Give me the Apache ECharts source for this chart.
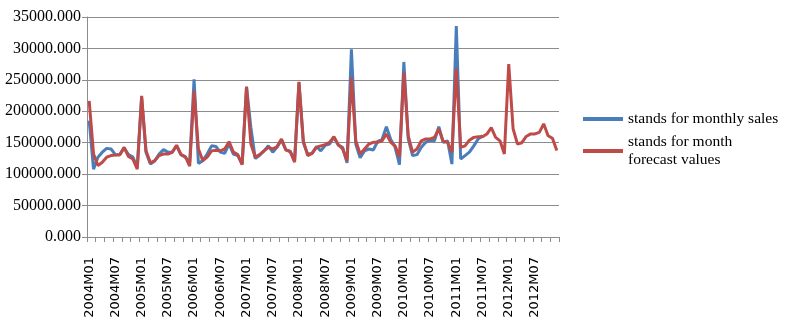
<!DOCTYPE html>
<html>
<head>
<meta charset="utf-8">
<script src="https://cdn.jsdelivr.net/npm/echarts@6/dist/echarts.min.js"></script>
<style>
html,body{margin:0;padding:0;background:#fff;}
#chart{width:785px;height:325px;}
</style>
</head>
<body>
<div id="chart"></div>
<script>
// Categories: 2004M01 .. 2012M12
var years = [2004, 2005, 2006, 2007, 2008, 2009, 2010, 2011, 2012];
var months = ['01','02','03','04','05','06','07','08','09','10','11','12'];
var categories = [];
years.forEach(function (y) { months.forEach(function (m) { categories.push(y + 'M' + m); }); });

// Y tick labels as printed in the reference
var yTickLabels = ['0.000', '50000.000', '100000.000', '150000.000', '200000.000', '250000.000', '30000.000', '35000.000'];

// Monthly sales (actual) – ends 2011M07
var monthlySales = [
  185000, 108000, 127000, 135000, 141000, 140000, 131000, 131000, 141600, 131000, 127000, 111000,
  222000, 135000, 116000, 121000, 132000, 139000, 135000, 135000, 145000, 131000, 127000, 119000,
  251000, 117000, 121500, 132000, 145000, 144000, 135000, 133000, 148000, 132000, 129500, 116000,
  239000, 174000, 125000, 130000, 137000, 145000, 135000, 143000, 154500, 138500, 136000, 121500,
  245500, 150000, 132000, 133000, 144000, 137000, 146000, 148000, 158500, 146000, 142700, 118000,
  298600, 148000, 126000, 137000, 140000, 138500, 152000, 155000, 175500, 155000, 142700, 115000,
  278500, 156000, 129500, 131000, 142700, 150600, 154000, 153000, 175500, 150600, 153000, 116000,
  335600, 124000, 129500, 135000, 145000, 156000, 161000
];

// Monthly forecast values
var forecastValues = [
  216700, 132000, 113600, 119000, 127000, 129500, 130500, 131000, 142700, 128000, 124000, 108000,
  224600, 137000, 118000, 121500, 129500, 132000, 132000, 134800, 146000, 131000, 128000, 112600,
  232500, 140000, 121500, 127000, 137000, 138000, 137000, 140000, 151700, 135000, 131000, 115000,
  239000, 148000, 127000, 131000, 137000, 142700, 140000, 143800, 156000, 138500, 136000, 119000,
  247000, 153000, 129500, 133000, 142700, 145000, 147000, 150600, 159600, 147000, 140000, 121500,
  253700, 153000, 132000, 140000, 148000, 150600, 150600, 153000, 163800, 150600, 145000, 127000,
  261600, 161000, 135000, 140000, 153000, 156000, 156000, 158500, 171800, 152000, 150600, 135000,
  268000, 142700, 145000, 154000, 158500, 159600, 159600, 163800, 174000, 158500, 153000, 132000,
  275000, 172000, 148000, 150000, 160000, 164000, 164000, 166500, 180000, 161000, 157000, 137500
];

var chart = echarts.init(document.getElementById('chart'), null, {renderer: 'canvas'});
chart.setOption({
  animation: false,
  backgroundColor: '#ffffff',
  grid: {left: 87, right: 226, top: 17, bottom: 88, containLabel: false},
  legend: {
    orient: 'vertical',
    left: 583,
    top: 110,
    padding: 0,
    itemWidth: 40,
    itemHeight: 4,
    itemGap: 5,
    icon: 'rect',
    textStyle: {fontFamily: 'Liberation Serif', fontSize: 15.5, color: '#000', lineHeight: 18},
    data: [
      {name: 'stands for monthly sales'},
      {name: 'stands for month\nforecast values'}
    ]
  },
  xAxis: {
    type: 'category',
    data: categories,
    boundaryGap: true,
    axisLine: {lineStyle: {color: '#8c8c8c', width: 1}},
    axisTick: {show: true, interval: 1, length: 5, lineStyle: {color: '#8c8c8c'}},
    axisLabel: {
      interval: 5,
      rotate: 90,
      margin: 20,
      fontFamily: 'DejaVu Sans',
      fontSize: 13,
      color: '#000'
    },
    splitLine: {show: false}
  },
  yAxis: {
    type: 'value',
    min: 0,
    max: 350000,
    interval: 50000,
    axisLine: {show: true, lineStyle: {color: '#8c8c8c', width: 1}},
    axisTick: {show: true, length: 5, lineStyle: {color: '#8c8c8c'}},
    axisLabel: {
      margin: 6,
      fontFamily: 'Liberation Serif',
      fontSize: 16,
      color: '#000',
      formatter: function (v) { return yTickLabels[Math.round(v / 50000)]; }
    },
    splitLine: {show: true, lineStyle: {color: '#8c8c8c', width: 1}}
  },
  series: [
    {
      name: 'stands for monthly sales',
      type: 'line',
      data: monthlySales,
      symbol: 'none',
      lineStyle: {color: '#4a7ebb', width: 3},
      itemStyle: {color: '#4a7ebb'}
    },
    {
      name: 'stands for month\nforecast values',
      type: 'line',
      data: forecastValues,
      symbol: 'none',
      lineStyle: {color: '#be4b48', width: 3},
      itemStyle: {color: '#be4b48'}
    }
  ]
});
</script>
</body>
</html>
